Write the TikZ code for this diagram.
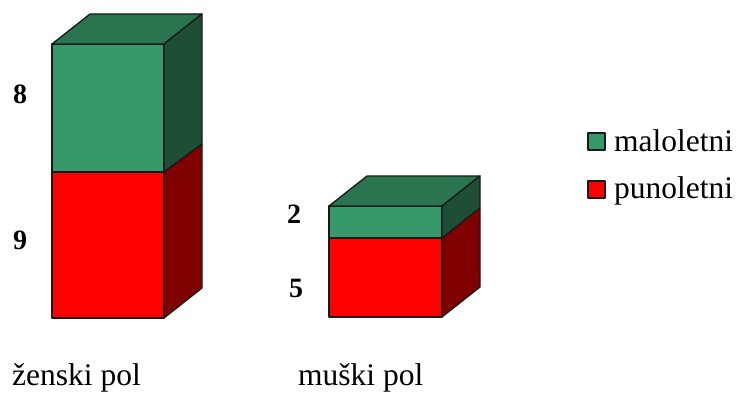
\documentclass[tikz,border=0pt]{standalone}
\usepackage{fontspec}
\setmainfont{Liberation Serif}
\definecolor{gfront}{HTML}{35996A}
\definecolor{gtop}{HTML}{2A7550}
\definecolor{gside}{HTML}{1E4F36}
\definecolor{rfront}{HTML}{FF0000}
\definecolor{rside}{HTML}{800000}
\begin{document}
\begin{tikzpicture}[x=1pt,y=-1pt]
\useasboundingbox (0,0) rectangle (738,393);
\tikzset{
  face/.style={draw=black!90,line width=1.3pt,line join=round},
  num/.style={font=\fontsize{28}{30}\selectfont\bfseries,inner sep=0pt},
  cat/.style={font=\fontsize{31.5}{33}\selectfont,inner sep=0pt,anchor=base west},
  leg/.style={font=\fontsize{31.5}{33}\selectfont,inner sep=0pt,anchor=base west}
}
% bar 1 (zenski pol)
\filldraw[face,fill=rfront] (52,172) rectangle (164,318);
\filldraw[face,fill=gfront] (52,44) rectangle (164,172);
\filldraw[face,fill=gtop] (52,44) -- (90,14) -- (202,14) -- (164,44) -- cycle;
\filldraw[face,fill=gside] (164,44) -- (202,14) -- (202,144) -- (164,172) -- cycle;
\filldraw[face,fill=rside] (164,172) -- (202,144) -- (202,288) -- (164,318) -- cycle;
% bar 2 (muski pol)
\filldraw[face,fill=rfront] (329,238) rectangle (442,317);
\filldraw[face,fill=gfront] (329,206) rectangle (442,238);
\filldraw[face,fill=gtop] (329,206) -- (367,176) -- (480,176) -- (442,206) -- cycle;
\filldraw[face,fill=gside] (442,206) -- (480,176) -- (480,208) -- (442,238) -- cycle;
\filldraw[face,fill=rside] (442,238) -- (480,208) -- (480,287) -- (442,317) -- cycle;
% value labels
\node[num] (v8) at (20,94) {8};
\node[num] (v9) at (20,240) {9};
\node[num] (v2) at (294,214) {2};
\node[num] (v5) at (296,288) {5};
% category labels
\node[cat] (c1) at (12,385) {ženski pol};
\node[cat] (c2) at (298,385) {muški pol};
% legend
\filldraw[face,line width=1.1pt,fill=gfront] (588,133) rectangle (605,150);
\node[leg] (l1) at (614,151) {maloletni};
\filldraw[face,line width=1.1pt,fill=rfront] (588,181) rectangle (605,198);
\node[leg] (l2) at (614,198) {punoletni};
\end{tikzpicture}
\end{document}
